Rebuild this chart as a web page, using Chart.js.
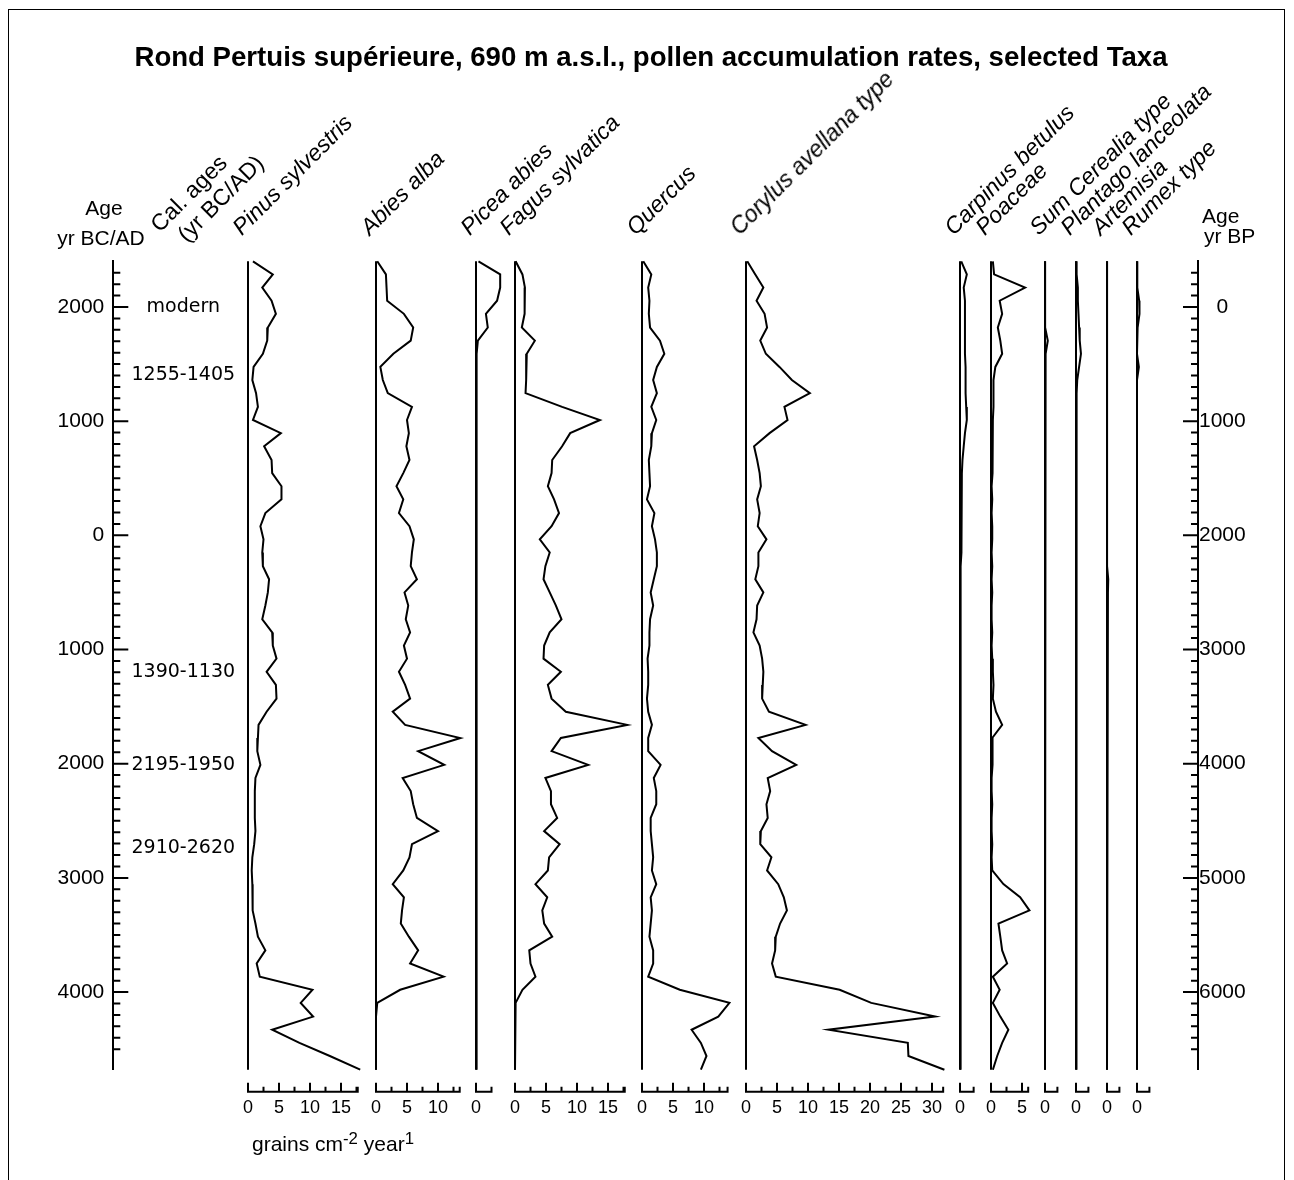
<!DOCTYPE html>
<html lang="en">
<head>
<meta charset="UTF-8">
<meta name="viewport" content="width=device-width, initial-scale=1.0">
<title>Rond Pertuis supérieure - pollen accumulation rates</title>
<script src="https://cdn.jsdelivr.net/npm/chart.js"></script>
<style>
  html, body { margin: 0; background: #fff; }
  #page { position: relative; width: 1294px; height: 1180px; overflow: hidden;
          font-family: 'Liberation Sans', Arial, sans-serif; color: #000; }
  #frame { position: absolute; left: 8px; top: 9px; width: 1275px; height: 1300px; border: 1px solid #000; }
  canvas { position: absolute; top: 0; }
  .lbl { position: absolute; white-space: nowrap; }
  .sup { position: relative; top: -0.45em; font-size: 0.8em; }
</style>
</head>
<body>
<div id="page">
  <div id="frame"></div>
  <canvas id="ageChart" width="1294" height="1180" style="left:0;width:1294px;height:1180px"></canvas>
</div>
<script>
// sample ages, cal. yr BC/AD (BC negative), core top first
const AGES = [2400, 2285, 2170, 2055, 1940, 1820, 1705, 1590, 1475, 1360,
              1245, 1125, 1010, 895, 780, 660, 545, 430, 315, 195,
              80, -35, -150, -270, -385, -500, -615, -735, -850, -965,
              -1080, -1195, -1310, -1430, -1545, -1660, -1775, -1890, -2010, -2125,
              -2240, -2355, -2475, -2590, -2705, -2820, -2935, -3055, -3170, -3285,
              -3400, -3515, -3635, -3750, -3865, -3980, -4095, -4215, -4330, -4445,
              -4560, -4680];

// accumulation rates (grains cm-2 year-1), one value per sample
const PINUS = [0.8, 4.0, 2.3, 3.8, 4.5, 3.2, 3.1, 2.4, 0.9, 0.7,
               1.3, 1.6, 0.8, 5.3, 2.6, 3.8, 3.9, 5.4, 5.4, 2.8,
               2.0, 2.5, 2.3, 2.4, 3.4, 3.2, 2.8, 2.3, 3.9, 4.0,
               4.6, 3.0, 4.5, 4.6, 3.0, 1.7, 1.6, 1.5, 2.0, 1.2,
               1.1, 1.1, 1.1, 1.2, 1.0, 0.7, 0.6, 0.7, 0.7, 0.8,
               1.2, 1.6, 2.8, 1.4, 1.9, 10.4, 8.5, 10.5, 3.9, 8.3,
               13.2, 18.1];
const ABIES = [0.2, 1.6, 1.7, 1.8, 4.5, 6.0, 5.6, 2.8, 0.7, 1.1,
               1.9, 5.8, 5.0, 5.3, 4.9, 5.4, 4.4, 3.3, 4.4, 3.7,
               5.4, 6.1, 5.8, 5.6, 6.6, 4.6, 5.2, 4.8, 5.5, 4.5,
               5.0, 3.7, 4.7, 5.5, 2.7, 4.7, 13.6, 6.8, 11.0, 4.3,
               5.6, 6.0, 6.6, 10.0, 5.8, 5.4, 4.4, 2.7, 4.5, 4.2,
               4.0, 5.3, 6.8, 5.5, 10.9, 3.9, 0.2, 0, 0, 0,
               0, 0];
const PICEA = [0.4, 3.9, 3.9, 3.4, 1.6, 1.9, 0.3, 0.1, 0.1, 0.1,
               0.1, 0.1, 0.1, 0.1, 0.1, 0.1, 0.1, 0.1, 0.1, 0.1,
               0.1, 0.1, 0.1, 0.1, 0.1, 0.1, 0.1, 0.1, 0.1, 0.1,
               0.1, 0.1, 0.1, 0.1, 0.1, 0.1, 0.1, 0.1, 0.1, 0.1,
               0.1, 0.1, 0.1, 0.1, 0.1, 0.1, 0.1, 0.1, 0.1, 0.1,
               0.1, 0.1, 0.1, 0.1, 0.1, 0.1, 0.1, 0.1, 0.1, 0.1,
               0.1, 0.1];
const FAGUS = [0.1, 1.2, 1.6, 1.6, 1.5, 1.1, 3.2, 1.9, 1.8, 1.8,
               1.7, 7.6, 13.7, 8.9, 7.6, 6.0, 5.9, 5.3, 6.3, 7.1,
               5.9, 4.0, 5.6, 4.9, 4.6, 5.6, 6.6, 7.5, 5.6, 4.7,
               4.6, 7.4, 5.3, 5.9, 8.2, 18.1, 7.4, 5.9, 11.8, 4.9,
               5.8, 5.8, 6.8, 4.7, 7.2, 5.5, 5.3, 3.3, 5.2, 4.4,
               4.7, 6.0, 2.3, 2.5, 3.3, 1.2, 0.1, 0, 0, 0,
               0, 0];
const QUERCUS = [0.2, 1.5, 1.0, 1.2, 1.1, 1.3, 2.9, 3.6, 2.4, 1.8,
                 2.4, 1.5, 2.3, 1.6, 1.5, 1.1, 1.2, 1.3, 0.8, 2.0,
                 1.6, 2.1, 2.4, 2.4, 1.9, 1.4, 1.8, 1.3, 1.2, 1.2,
                 0.9, 1.0, 1.0, 0.8, 1.0, 1.6, 1.0, 1.0, 3.0, 1.9,
                 2.3, 2.3, 1.4, 1.4, 1.6, 1.8, 1.6, 2.3, 1.4, 1.6,
                 1.4, 1.2, 1.8, 1.8, 1.0, 6.1, 14.1, 12.3, 8.0, 9.5,
                 10.4, 9.5];
const CORYLUS = [0.2, 1.5, 2.8, 1.7, 3.0, 3.4, 2.3, 3.2, 5.4, 7.4,
                 10.3, 6.2, 6.7, 3.8, 1.3, 1.8, 2.2, 2.4, 1.8, 2.2,
                 1.9, 3.3, 2.0, 2.0, 1.5, 2.8, 1.8, 1.7, 1.2, 2.2,
                 2.6, 2.8, 2.7, 2.6, 3.7, 9.6, 2.0, 4.2, 8.1, 3.5,
                 3.9, 3.3, 3.5, 2.4, 2.3, 4.1, 3.4, 5.2, 6.1, 6.6,
                 5.5, 4.8, 4.7, 4.2, 4.8, 15.1, 20.2, 30.5, 13.3, 26.1,
                 26.2, 32.0];
const CARPINUS = [0.2, 1.1, 0.6, 0.8, 0.8, 0.8, 0.8, 0.8, 0.9, 0.9,
                  0.9, 1.0, 1.1, 0.8, 0.6, 0.4, 0.3, 0.3, 0.3, 0.2,
                  0.2, 0.2, 0.2, 0.1, 0.1, 0.1, 0.1, 0.1, 0.1, 0.1,
                  0.1, 0.1, 0.1, 0.1, 0.1, 0.1, 0.1, 0.1, 0.1, 0.1,
                  0.1, 0.1, 0.1, 0.1, 0.1, 0.1, 0.1, 0.1, 0.1, 0.1,
                  0.1, 0.1, 0.1, 0.1, 0.1, 0.1, 0.1, 0.1, 0.1, 0.1,
                  0.1, 0.1];
const POACEAE = [0.3, 0.5, 5.5, 1.4, 1.8, 1.1, 1.5, 1.8, 0.7, 0.4,
                 0.4, 0.4, 0.3, 0.3, 0.2, 0.3, 0.2, 0.1, 0.2, 0.1,
                 0.2, 0.2, 0.1, 0.2, 0.1, 0.2, 0.1, 0.1, 0.2, 0.1,
                 0.2, 0.3, 0.4, 0.3, 0.8, 1.8, 0.2, 0.3, 0.2, 0.1,
                 0.1, 0.2, 0.1, 0.1, 0.2, 0.1, 0.2, 2.0, 4.7, 6.2,
                 1.2, 1.5, 1.8, 2.6, 0.3, 1.4, 0.3, 1.5, 2.8, 1.8,
                 1.0, 0.3];
const CEREALIA = [0, 0, 0, 0, 0, 0.1, 0.45, 0.1, 0, 0,
                  0, 0, 0, 0, 0, 0, 0, 0, 0, 0,
                  0, 0, 0, 0, 0, 0, 0, 0, 0, 0,
                  0, 0, 0, 0, 0, 0, 0, 0, 0, 0,
                  0, 0, 0, 0, 0, 0, 0, 0, 0, 0,
                  0, 0, 0, 0, 0, 0, 0, 0, 0, 0,
                  0, 0];
const PLANTAGO = [0, 0.1, 0.3, 0.3, 0.4, 0.5, 0.6, 0.8, 0.5, 0.2,
                  0.1, 0.1, 0.1, 0.1, 0.1, 0.1, 0.1, 0.1, 0.1, 0.1,
                  0.1, 0.1, 0.1, 0.1, 0.1, 0.1, 0.1, 0.1, 0.1, 0.1,
                  0.1, 0.1, 0.1, 0.1, 0.1, 0.1, 0.1, 0.1, 0.1, 0.1,
                  0.05, 0.05, 0.05, 0.05, 0.05, 0.05, 0.05, 0.05, 0.05, 0.05,
                  0.05, 0.05, 0.05, 0.05, 0.05, 0.05, 0.05, 0.05, 0.05, 0.05,
                  0.05, 0.05];
const ARTEMISIA = [0, 0, 0, 0, 0, 0, 0, 0, 0, 0,
                   0, 0, 0, 0.15, 0, 0, 0, 0, 0, 0,
                   0, 0, 0, 0.15, 0.2, 0.15, 0, 0, 0, 0,
                   0, 0, 0, 0, 0, 0, 0, 0, 0, 0,
                   0, 0, 0, 0, 0, 0, 0, 0, 0, 0,
                   0, 0, 0, 0, 0, 0, 0, 0, 0, 0,
                   0, 0];
const RUMEX = [0, 0, 0.1, 0.35, 0.4, 0.1, 0, 0, 0.3, 0,
               0, 0, 0, 0, 0, 0, 0, 0, 0, 0,
               0, 0, 0, 0, 0, 0, 0, 0, 0, 0,
               0, 0, 0, 0, 0, 0, 0, 0, 0, 0,
               0, 0, 0, 0, 0, 0, 0, 0, 0, 0,
               0, 0, 0, 0, 0, 0, 0, 0, 0, 0,
               0, 0];

const TAXA = ['Pinus sylvestris', 'Abies alba', 'Picea abies', 'Fagus sylvatica', 'Quercus',
              'Corylus avellana type', 'Carpinus betulus', 'Poaceae', 'Sum Cerealia type',
              'Plantago lanceolata', 'Artemisia', 'Rumex type'];
const SERIES = [PINUS, ABIES, PICEA, FAGUS, QUERCUS, CORYLUS, CARPINUS, POACEAE,
                CEREALIA, PLANTAGO, ARTEMISIA, RUMEX];
// end of each panel's value axis
const AXIS_MAX = [17.7, 13.5, 2.5, 17.7, 13.8, 31.8, 2.2, 6.0, 2.0, 2.0, 2.0, 2.0];

// dated levels written next to the age scale
const CAL_LABELS = ['modern', '1255-1405', '1390-1130', '2195-1950', '2910-2620'];
const CAL_AT = [2000, 1400, -1200, -2010, -2740];

const AGE_TOP = 2400;
const AGE_BOTTOM = -4680;
const TITLE = 'Rond Pertuis supérieure, 690 m a.s.l., pollen accumulation rates, selected Taxa';

// layout (pixels)
const PANEL_X = [248, 376, 475.5, 514.5, 642, 746, 959.5, 990.5, 1045, 1075.5, 1106.5, 1137];
const PX_PER_UNIT = 6.2;
const PAGE_W = 1294, PAGE_H = 1180;
const PLOT_TOP = 261.3, PLOT_BOTTOM = 1069.7;
const LEFT_AXIS_X = 113.3, RIGHT_AXIS_X = 1198;
const PAD = 40;   // must exceed tick padding + half a label, or Chart.js shrinks the plot
const TITLE_SIZE = 27.6, TITLE_MID = 58.2;

Chart.defaults.font.family = "'Liberation Sans', Arial, sans-serif";
Chart.defaults.color = '#000';

const page = document.getElementById('page');

// tick marks drawn inward from the axis line (major every majorStep)
const tickMarks = {
  id: 'tickMarks',
  afterDraw(chart, args, opts) {
    const ctx = chart.ctx;
    ctx.save();
    ctx.strokeStyle = '#000';
    ctx.lineWidth = 2;
    ctx.beginPath();
    for (const a of opts.axes || []) {
      const s = chart.scales[a.id];
      const yBase = chart.chartArea.bottom + (a.gap || 0);
      if (a.side === 'bottom') {
        ctx.moveTo(s.getPixelForValue(s.min) - 1, yBase);
        ctx.lineTo(s.getPixelForValue(s.max) + 1, yBase);
      }
      for (const t of s.ticks) {
        const v = t.value;
        const onStep = Math.abs(v / a.step - Math.round(v / a.step)) < 1e-6;
        const isEnd = v === s.min || v === s.max;
        if (a.side === 'bottom') {
          if (!onStep && !isEnd) continue;
        } else if (!onStep || isEnd) continue;
        const major = Math.abs(v / a.majorStep - Math.round(v / a.majorStep)) < 1e-6;
        const len = major && onStep ? a.major : a.minor;
        const p = s.getPixelForValue(v);
        if (a.side === 'left') { ctx.moveTo(s.right, p); ctx.lineTo(s.right + len, p); }
        else if (a.side === 'right') { ctx.moveTo(s.left, p); ctx.lineTo(s.left - len, p); }
        else { ctx.moveTo(p, yBase); ctx.lineTo(p, yBase - len); }
      }
    }
    ctx.stroke();
    ctx.restore();
  }
};

// calibrated ages beside the left scale
const calLabels = {
  id: 'calLabels',
  afterDraw(chart) {
    const y = chart.scales.y;
    const ctx = chart.ctx;
    ctx.save();
    ctx.font = "19px 'DejaVu Sans'";
    ctx.fillStyle = '#000';
    ctx.textAlign = 'center';
    ctx.textBaseline = 'middle';
    CAL_LABELS.forEach((t, i) => ctx.fillText(t, y.right + 70, y.getPixelForValue(CAL_AT[i])));
    ctx.restore();
  }
};

// age scales (left: yr BC/AD, right: yr BP) and title
const titleLH = TITLE_SIZE * 1.2;
new Chart(document.getElementById('ageChart'), {
  type: 'line',
  data: { datasets: [] },
  plugins: [tickMarks, calLabels],
  options: {
    responsive: false,
    animation: false,
    events: [],
    layout: { padding: { top: 0, left: 8, right: 0, bottom: PAGE_H - PLOT_BOTTOM } },
    plugins: {
      legend: { display: false },
      tooltip: { enabled: false },
      title: {
        display: true,
        text: TITLE,
        font: { size: TITLE_SIZE, weight: 'bold' },
        padding: { top: TITLE_MID - titleLH / 2, bottom: PLOT_TOP - (TITLE_MID + titleLH / 2) }
      },
      tickMarks: {
        axes: [
          { id: 'y', side: 'left', step: 100, majorStep: 1000, minor: 7, major: 15 },
          { id: 'y2', side: 'right', step: 100, majorStep: 1000, minor: 7, major: 15 }
        ]
      }
    },
    scales: {
      x: { type: 'linear', display: false },
      y: {
        position: 'left',
        min: AGE_BOTTOM,
        max: AGE_TOP,
        afterFit: s => { s.width = LEFT_AXIS_X - 8; },
        grid: { display: false, drawTicks: false },
        border: { display: true, width: 2, color: '#000' },
        ticks: {
          stepSize: 100, autoSkip: false, padding: 9, font: { size: 21 },
          callback: v => (v % 1000 === 0 ? String(Math.abs(v)) : '')
        }
      },
      y2: {
        position: 'right',
        reverse: true,
        min: 2000 - AGE_TOP,
        max: 2000 - AGE_BOTTOM,
        afterFit: s => { s.width = PAGE_W - RIGHT_AXIS_X; },
        grid: { display: false, drawTicks: false },
        border: { display: true, width: 2, color: '#000' },
        ticks: {
          stepSize: 100, autoSkip: false, padding: 1, crossAlign: 'center', font: { size: 21 },
          callback: v => (v % 1000 === 0 && v >= 0 ? String(v) : '')
        }
      }
    }
  }
});

// one narrow chart per taxon
SERIES.forEach((vals, i) => {
  const plotW = AXIS_MAX[i] * PX_PER_UNIT;
  const W = Math.ceil(plotW) + 2 * PAD;
  const cv = document.createElement('canvas');
  cv.width = W;
  cv.height = PAGE_H;
  cv.style.left = (PANEL_X[i] - PAD) + 'px';
  cv.style.width = W + 'px';
  cv.style.height = PAGE_H + 'px';
  page.appendChild(cv);

  new Chart(cv, {
    type: 'line',
    data: {
      datasets: [
        {
          data: AGES.map((a, k) => ({ x: vals[k], y: a })),
          borderColor: '#000', borderWidth: 2, pointRadius: 0, tension: 0, clip: false
        },
        {
          data: [{ x: 0, y: AGES[0] }, { x: 0, y: AGES[AGES.length - 1] }],
          borderColor: '#000', borderWidth: 2, pointRadius: 0, clip: false
        }
      ]
    },
    plugins: [tickMarks],
    options: {
      indexAxis: 'y',
      responsive: false,
      animation: false,
      events: [],
      layout: { padding: { top: PLOT_TOP, bottom: 50, left: PAD, right: W - PAD - plotW } },
      plugins: {
        legend: { display: false },
        tooltip: { enabled: false },
        tickMarks: { axes: [{ id: 'x', side: 'bottom', gap: 22, step: 2.5, majorStep: 5, minor: 5, major: 9 }] }
      },
      scales: {
        x: {
          type: 'linear',
          min: 0,
          max: AXIS_MAX[i],
          bounds: 'data',
          afterFit: s => { s.height = PAGE_H - PLOT_BOTTOM - 50; },
          grid: { display: false, drawTicks: false },
          border: { display: false },
          ticks: {
            stepSize: 2.5, includeBounds: false, autoSkip: false, maxRotation: 0,
            padding: 27.5, font: { size: 18 },
            callback: v => (v % 5 === 0 ? String(v) : '')
          }
        },
        y: { type: 'linear', display: false, min: AGE_BOTTOM, max: AGE_TOP }
      }
    }
  });
});

// header texts
function addText(html, x, base, size, style) {
  const d = document.createElement('div');
  d.className = 'lbl';
  d.innerHTML = html;
  d.style.fontSize = size + 'px';
  d.style.lineHeight = size + 'px';
  d.style.left = x + 'px';
  d.style.top = (base - 0.8465 * size) + 'px';
  Object.assign(d.style, style || {});
  page.appendChild(d);
}
const rot = (size, italic) => ({
  fontStyle: italic ? 'italic' : 'normal',
  transformOrigin: '0 ' + (0.8465 * size) + 'px',
  transform: 'rotate(-45deg)'
});

TAXA.forEach((t, i) => addText(t, PANEL_X[i] - 6, 236, 23, rot(23, true)));
addText('Cal. ages', 160, 233, 23, rot(23, false));
addText('(yr BC/AD)', 187, 243, 23, rot(23, false));

addText('Age', 104, 215, 21, { transform: 'translateX(-50%)' });
addText('yr BC/AD', 101, 245, 21, { transform: 'translateX(-50%)' });
addText('Age', 1202, 223, 21);
addText('yr BP', 1204, 243, 21);

addText('grains cm<span class="sup">-2</span> year<span class="sup">1</span>', 252, 1151, 21);
</script>
</body>
</html>
